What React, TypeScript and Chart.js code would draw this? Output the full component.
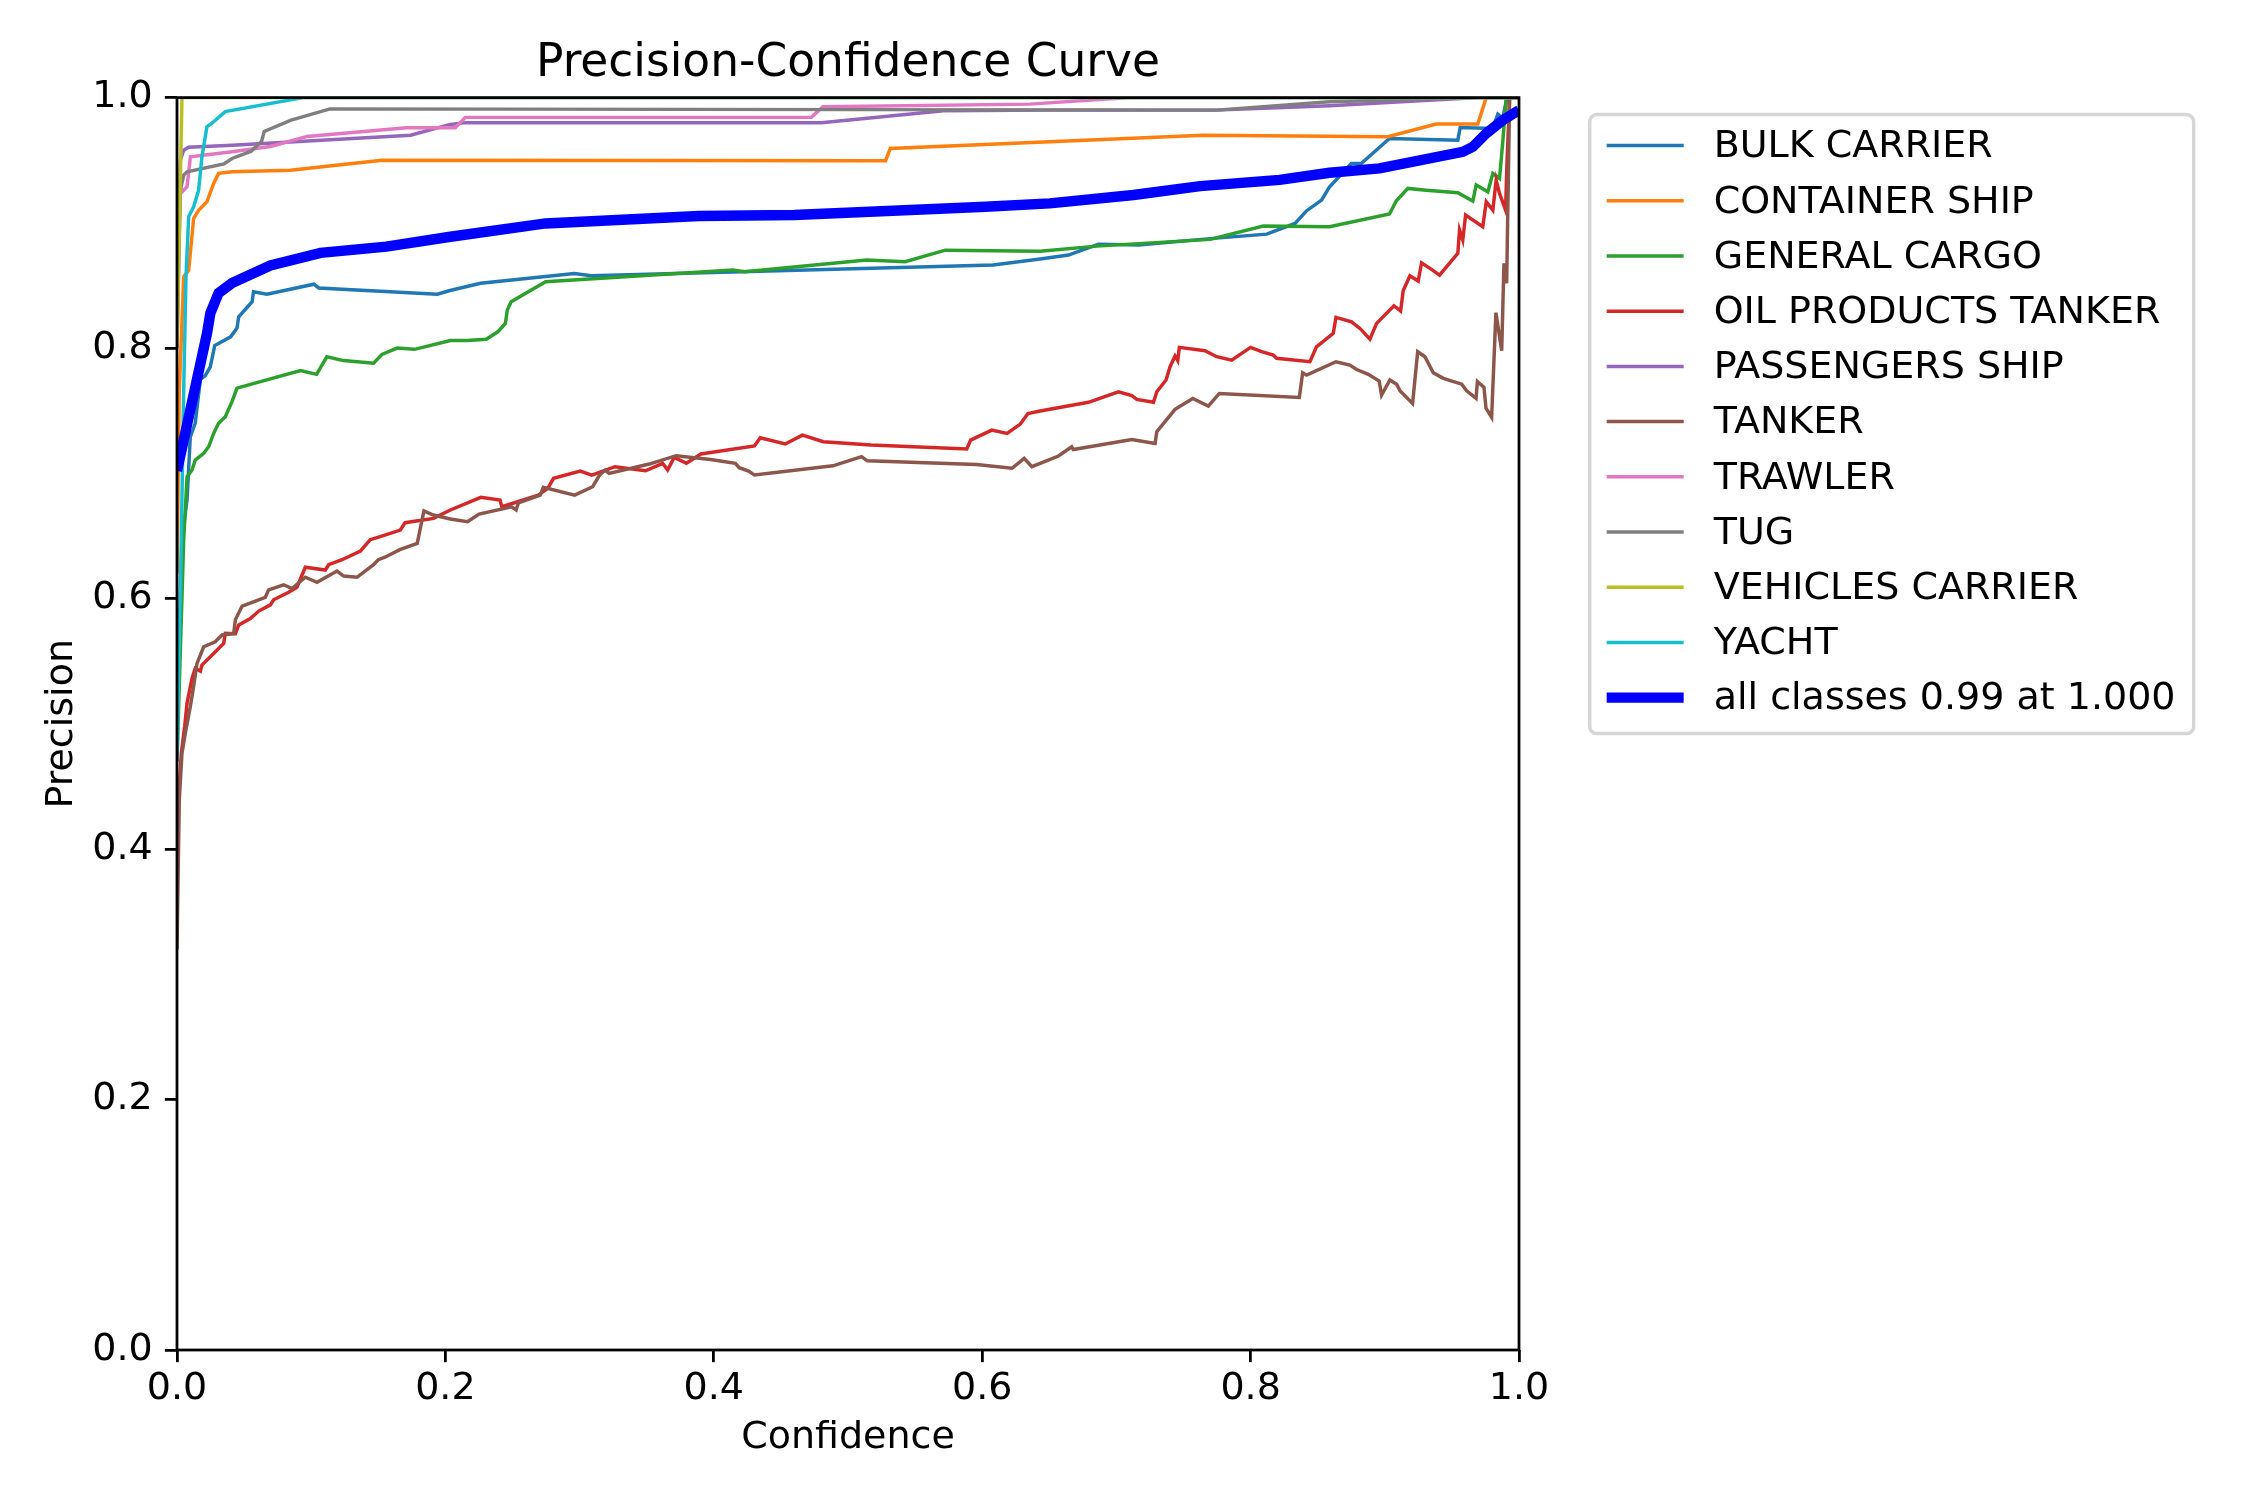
// Precision-Confidence Curve
import { useEffect, useRef } from 'react';
import { Chart, registerables } from 'chart.js';

Chart.register(...registerables);

type Pt = [number, number];

// class names and their colours (matplotlib tab10)
const CLASS_NAMES = [
  'BULK CARRIER',
  'CONTAINER SHIP',
  'GENERAL CARGO',
  'OIL PRODUCTS TANKER',
  'PASSENGERS SHIP',
  'TANKER',
  'TRAWLER',
  'TUG',
  'VEHICLES CARRIER',
  'YACHT',
];
const CLASS_COLORS = [
  '#1f77b4', '#ff7f0e', '#2ca02c', '#d62728', '#9467bd',
  '#8c564b', '#e377c2', '#7f7f7f', '#bcbd22', '#17becf',
];
const ALL_LABEL = 'all classes 0.99 at 1.000';

const X_TICKS = [0, 0.2, 0.4, 0.6, 0.8, 1.0];
const Y_TICKS = [0, 0.2, 0.4, 0.6, 0.8, 1.0];

// [confidence, precision]
const bulkCarrier: Pt[] = [
  [0, 0.5], [0.0037, 0.647], [0.0075, 0.679], [0.0099, 0.729], [0.0136, 0.74], [0.0174, 0.775],
  [0.0211, 0.778], [0.0248, 0.785], [0.0281, 0.802], [0.04, 0.809], [0.0447, 0.816], [0.046, 0.825],
  [0.056, 0.837], [0.057, 0.845], [0.067, 0.843], [0.102, 0.851], [0.1056, 0.848], [0.194, 0.843],
  [0.2034, 0.846], [0.2262, 0.8517], [0.296, 0.8596], [0.3088, 0.8577], [0.6081, 0.8663],
  [0.6432, 0.8711], [0.6643, 0.8743], [0.6866, 0.883], [0.7164, 0.8823], [0.7722, 0.8876],
  [0.812, 0.891], [0.8331, 0.8995], [0.8418, 0.9097], [0.8529, 0.9182], [0.8586, 0.9283],
  [0.875, 0.9474], [0.8824, 0.9474], [0.9035, 0.9674], [0.9544, 0.966], [0.9562, 0.9762],
  [0.9805, 0.9754], [0.9842, 0.9868], [0.9879, 0.9834], [0.991, 1.0], [1, 1.0],
];
const containerShip: Pt[] = [
  [0, 0.62], [0.0017, 0.766], [0.005, 0.857], [0.0087, 0.862], [0.0124, 0.9035], [0.0161, 0.91],
  [0.0223, 0.9168], [0.0273, 0.9315], [0.031, 0.9395], [0.041, 0.9408], [0.0845, 0.942],
  [0.1528, 0.95], [0.528, 0.9496], [0.5315, 0.9594], [0.6503, 0.9647], [0.7645, 0.97],
  [0.9023, 0.9687], [0.9383, 0.9789], [0.9693, 0.9789], [0.9718, 0.9874], [0.9756, 1.0], [1, 1.0],
];
const generalCargo: Pt[] = [
  [0, 0.47], [0.005, 0.647], [0.0075, 0.6973], [0.0112, 0.7026], [0.0136, 0.7106], [0.0199, 0.716],
  [0.0236, 0.7212], [0.0273, 0.7319], [0.031, 0.74], [0.036, 0.7452], [0.041, 0.7572],
  [0.0447, 0.768], [0.092, 0.782], [0.104, 0.779], [0.1117, 0.793], [0.124, 0.79], [0.1465, 0.788],
  [0.1527, 0.795], [0.164, 0.8], [0.177, 0.799], [0.2037, 0.806], [0.2162, 0.806], [0.2305, 0.807],
  [0.239, 0.813], [0.2447, 0.8197], [0.2461, 0.8303], [0.249, 0.837], [0.2747, 0.853],
  [0.4143, 0.8623], [0.4229, 0.861], [0.514, 0.8703], [0.5426, 0.869], [0.5725, 0.8782],
  [0.6432, 0.8774], [0.6854, 0.8814], [0.7698, 0.8868], [0.8095, 0.8974], [0.8588, 0.8969],
  [0.9035, 0.907], [0.9085, 0.9174], [0.9172, 0.9275], [0.9309, 0.9261], [0.9544, 0.924],
  [0.9656, 0.9174], [0.9681, 0.9302], [0.9768, 0.9248], [0.9805, 0.9395], [0.9855, 0.9355],
  [0.9879, 0.9647], [0.9905, 1.0], [1, 1.0],
];
const oilProductsTanker: Pt[] = [
  [0, 0.42], [0.0032, 0.4766], [0.0057, 0.4977], [0.0075, 0.5166], [0.0112, 0.5363],
  [0.0136, 0.5443], [0.0174, 0.542], [0.0186, 0.5469], [0.0273, 0.5562], [0.0348, 0.5642],
  [0.036, 0.5722], [0.0435, 0.572], [0.046, 0.579], [0.0547, 0.584], [0.0609, 0.59], [0.0696, 0.595],
  [0.072, 0.599], [0.0832, 0.605], [0.0894, 0.609], [0.0956, 0.625], [0.1105, 0.6228], [0.113, 0.627],
  [0.123, 0.631], [0.1367, 0.638], [0.144, 0.647], [0.1502, 0.649], [0.1664, 0.6547], [0.17, 0.6606],
  [0.1912, 0.664], [0.2037, 0.6707], [0.2264, 0.6808], [0.2407, 0.6786], [0.2421, 0.6733],
  [0.2692, 0.6826], [0.2763, 0.688], [0.2806, 0.696], [0.3005, 0.7018], [0.3091, 0.6986],
  [0.3263, 0.7053], [0.3491, 0.702], [0.3619, 0.708], [0.3656, 0.7026], [0.3705, 0.7127],
  [0.3796, 0.708], [0.3904, 0.7154], [0.4303, 0.7218], [0.4346, 0.7284], [0.4532, 0.7234],
  [0.466, 0.7305], [0.4816, 0.7252], [0.5173, 0.7226], [0.5885, 0.7194], [0.5914, 0.7265],
  [0.6071, 0.7345], [0.6185, 0.7319], [0.6284, 0.7393], [0.6341, 0.7478], [0.6432, 0.7497],
  [0.6792, 0.7567], [0.7015, 0.7651], [0.7115, 0.762], [0.7152, 0.759], [0.7276, 0.7567],
  [0.7301, 0.7651], [0.737, 0.7745], [0.74, 0.7851], [0.7437, 0.7937], [0.7457, 0.79],
  [0.7469, 0.8006], [0.766, 0.7979], [0.7747, 0.7931], [0.7859, 0.7904], [0.8, 0.8006],
  [0.8082, 0.7971], [0.8169, 0.7944], [0.8194, 0.7918], [0.8442, 0.7891], [0.8491, 0.801],
  [0.8616, 0.8117], [0.8636, 0.8245], [0.8752, 0.821], [0.8815, 0.8157], [0.8889, 0.8072],
  [0.8939, 0.8197], [0.9068, 0.8338], [0.9118, 0.8296], [0.9137, 0.8458], [0.9187, 0.8578],
  [0.9249, 0.8535], [0.9274, 0.8681], [0.9348, 0.8628], [0.9408, 0.8583], [0.9544, 0.8756],
  [0.9557, 0.8942], [0.9581, 0.8862], [0.9602, 0.9062], [0.973, 0.8969], [0.9756, 0.9168],
  [0.9805, 0.9102], [0.983, 0.9341], [0.9855, 0.9235], [0.99, 0.9102], [0.991, 0.9461],
  [0.993, 1.0], [1, 1.0],
];
const passengersShip: Pt[] = [
  [0, 0.85], [0.0025, 0.95], [0.005, 0.958], [0.0087, 0.9603], [0.041, 0.962], [0.174, 0.97],
  [0.2037, 0.9786], [0.215, 0.98], [0.4802, 0.98], [0.5711, 0.9895], [0.6503, 0.99],
  [0.7745, 0.99], [0.8588, 0.9935], [0.97, 1.0], [1, 1.0],
];
const tanker: Pt[] = [
  [0, 0.32], [0.0017, 0.439], [0.0037, 0.4764], [0.0062, 0.4924], [0.0099, 0.5136], [0.0124, 0.53],
  [0.0149, 0.5482], [0.0199, 0.5615], [0.0285, 0.5655], [0.0335, 0.5709], [0.0422, 0.572],
  [0.0435, 0.583], [0.0485, 0.594], [0.0658, 0.601], [0.0683, 0.607], [0.0795, 0.611],
  [0.0857, 0.608], [0.0956, 0.617], [0.1043, 0.613], [0.1192, 0.622], [0.1242, 0.618],
  [0.1341, 0.617], [0.1465, 0.627], [0.15, 0.631], [0.155, 0.633], [0.166, 0.639], [0.179, 0.644],
  [0.184, 0.67], [0.191, 0.6667], [0.2037, 0.6635], [0.2165, 0.6613], [0.2251, 0.6675],
  [0.2493, 0.6733], [0.2527, 0.6707], [0.2544, 0.6765], [0.2707, 0.6826], [0.273, 0.6888],
  [0.2963, 0.6826], [0.3097, 0.6893], [0.3149, 0.6986], [0.3191, 0.7026], [0.322, 0.7],
  [0.3519, 0.7074], [0.3719, 0.7141], [0.3975, 0.7111], [0.4161, 0.708], [0.4189, 0.7045],
  [0.426, 0.7018], [0.4303, 0.6986], [0.4888, 0.706], [0.5101, 0.7133], [0.5144, 0.71],
  [0.5957, 0.7071], [0.6222, 0.704], [0.6313, 0.712], [0.637, 0.7053], [0.6432, 0.708],
  [0.6568, 0.7138], [0.6667, 0.7212], [0.6679, 0.719], [0.7115, 0.727], [0.7288, 0.7238],
  [0.7301, 0.7332], [0.7437, 0.7511], [0.7569, 0.7598], [0.7685, 0.7537], [0.7767, 0.7638],
  [0.8363, 0.7606], [0.8388, 0.7803], [0.8418, 0.7784], [0.8636, 0.7891], [0.874, 0.7864],
  [0.879, 0.7829], [0.8877, 0.779], [0.8958, 0.7737], [0.8976, 0.7625], [0.9038, 0.7745],
  [0.9088, 0.7712], [0.9113, 0.7659], [0.9207, 0.7558], [0.9245, 0.7971], [0.9299, 0.7931],
  [0.9361, 0.7803], [0.9436, 0.7758], [0.9573, 0.7712], [0.961, 0.7659], [0.968, 0.7598],
  [0.969, 0.7732], [0.9739, 0.7687], [0.9754, 0.752], [0.9796, 0.7448], [0.9828, 0.8283],
  [0.9871, 0.7979], [0.9888, 0.8676], [0.9908, 0.8517], [0.993, 1.0], [1, 1.0],
];
const trawler: Pt[] = [
  [0, 0.857], [0.0025, 0.9235], [0.0075, 0.9288], [0.01, 0.9527], [0.041, 0.9567], [0.0696, 0.961],
  [0.097, 0.969], [0.171, 0.976], [0.2074, 0.976], [0.2148, 0.9842], [0.4727, 0.9842],
  [0.4813, 0.9927], [0.6354, 0.9948], [0.7099, 1.0], [1, 1.0],
];
const tug: Pt[] = [
  [0, 0.8], [0.0025, 0.926], [0.005, 0.9381], [0.0075, 0.9408], [0.035, 0.947], [0.041, 0.9514],
  [0.055, 0.957], [0.063, 0.965], [0.065, 0.973], [0.085, 0.982], [0.114, 0.991], [0.7745, 0.99],
  [0.8588, 0.9966], [0.97, 1.0], [1, 1.0],
];
const vehiclesCarrier: Pt[] = [
  [0, 0.8], [0.0037, 1.0], [1, 1.0],
];
const yacht: Pt[] = [
  [0, 0.47], [0.0032, 0.647], [0.005, 0.7665], [0.0067, 0.857], [0.0087, 0.905], [0.0124, 0.9128],
  [0.0161, 0.926], [0.0186, 0.9527], [0.0223, 0.9767], [0.0273, 0.9807], [0.036, 0.9888],
  [0.094, 1.0], [1, 1.0],
];
const allClasses: Pt[] = [
  [0, 0.702], [0.0224, 0.812], [0.0249, 0.828], [0.031, 0.844], [0.041, 0.852], [0.0696, 0.866],
  [0.107, 0.876], [0.156, 0.881], [0.2037, 0.8889], [0.2747, 0.8995], [0.3887, 0.9054],
  [0.4599, 0.9062], [0.6025, 0.9129], [0.6503, 0.9155], [0.7127, 0.9222], [0.7624, 0.9293],
  [0.8216, 0.9343], [0.8588, 0.94], [0.8961, 0.9435], [0.9581, 0.9567], [0.9656, 0.9607],
  [0.9756, 0.9714], [0.9879, 0.982], [1.0, 0.99],
];

const CLASS_DATA = [
  bulkCarrier, containerShip, generalCargo, oilProductsTanker, passengersShip,
  tanker, trawler, tug, vehiclesCarrier, yacht,
];

const FONT = '"DejaVu Sans", sans-serif';
const PT = 250 / 72; // figure is 9x6 inches at 250 dpi
const TEXT = 38; // 10pt text, as it comes out in the picture
const TITLE = 45.5;

const framePlugin = {
  id: 'frame',
  afterDatasetsDraw(chart: any) {
    const { ctx, chartArea: a } = chart;
    ctx.save();
    ctx.strokeStyle = '#000';
    ctx.lineWidth = 0.8 * PT;
    ctx.strokeRect(a.left, a.top, a.right - a.left, a.bottom - a.top);
    ctx.restore();
  },
  afterDraw(chart: any) {
    const { ctx, chartArea: a } = chart;
    const w = a.right - a.left;
    ctx.save();
    ctx.fillStyle = '#000';

    // title and axis labels
    ctx.font = `${TITLE}px ${FONT}`;
    ctx.textAlign = 'center';
    ctx.textBaseline = 'alphabetic';
    ctx.fillText('Precision-Confidence Curve', (a.left + a.right) / 2, a.top - 6 * PT - 1);
    ctx.font = `${TEXT}px ${FONT}`;
    ctx.textBaseline = 'middle';
    ctx.fillText('Confidence', (a.left + a.right) / 2, a.bottom + 88);
    ctx.save();
    ctx.translate(62, (a.top + a.bottom) / 2);
    ctx.rotate(-Math.PI / 2);
    ctx.fillText('Precision', 0, 0);
    ctx.restore();

    // legend, upper left corner at axes (1.04, 1)
    const x0 = a.left + 1.04 * w + 17;
    const y0 = a.top + 17;
    const bw = 604;
    const bh = 619;
    ctx.beginPath();
    ctx.roundRect(x0, y0, bw, bh, 7);
    ctx.fillStyle = 'rgba(255,255,255,0.8)';
    ctx.fill();
    ctx.lineWidth = PT;
    ctx.strokeStyle = '#d6d6d6';
    ctx.stroke();

    const labels = [...CLASS_NAMES, ALL_LABEL];
    const colors = [...CLASS_COLORS, '#0000ff'];
    ctx.textAlign = 'left';
    ctx.textBaseline = 'middle';
    labels.forEach((label, i) => {
      const y = y0 + 31 + i * 55.2;
      ctx.beginPath();
      ctx.moveTo(x0 + 17, y);
      ctx.lineTo(x0 + 94, y);
      ctx.strokeStyle = colors[i];
      ctx.lineWidth = i === labels.length - 1 ? 3 * PT : PT;
      ctx.stroke();
      ctx.fillStyle = '#000';
      ctx.fillText(label, x0 + 124, y + 2);
    });
    ctx.restore();
  },
};

export default function App() {
  const canvasRef = useRef<HTMLCanvasElement>(null);
  const chartRef = useRef<Chart | null>(null);

  useEffect(() => {
    document.body.style.margin = '0';
    if (!canvasRef.current) return;
    if (chartRef.current) chartRef.current.destroy();

    const n = CLASS_DATA.length;
    const datasets: any[] = CLASS_DATA.map((pts, i) => ({
      label: CLASS_NAMES[i],
      data: pts.map(([x, y]) => ({ x, y })),
      borderColor: CLASS_COLORS[i],
      borderWidth: PT,
      pointRadius: 0,
      tension: 0,
      order: n - i,
    }));
    datasets.push({
      label: ALL_LABEL,
      data: allClasses.map(([x, y]) => ({ x, y })),
      borderColor: '#0000ff',
      borderWidth: 3 * PT,
      pointRadius: 0,
      tension: 0,
      order: 0,
    });

    const tickFont = { family: FONT, size: TEXT };
    const grid = {
      drawOnChartArea: false,
      drawTicks: true,
      tickLength: 3.5 * PT,
      lineWidth: 0.8 * PT,
      color: '#000',
    };

    chartRef.current = new Chart(canvasRef.current, {
      type: 'line',
      data: { datasets },
      plugins: [framePlugin],
      options: {
        animation: false,
        responsive: false,
        devicePixelRatio: 1,
        layout: { padding: { left: 0, top: 97.6, right: 731, bottom: 0 } },
        plugins: {
          legend: { display: false },
          title: { display: false },
          tooltip: { enabled: false },
        },
        scales: {
          x: {
            type: 'linear',
            min: 0,
            max: 1,
            afterBuildTicks: (s: any) => { s.ticks = X_TICKS.map((v) => ({ value: v })); },
            afterFit: (s: any) => { s.height = 150; },
            ticks: {
              font: tickFont,
              color: '#000',
              padding: 4,
              maxRotation: 0,
              callback: (v: any) => Number(v).toFixed(1),
            },
            grid,
            border: { display: false },
          },
          y: {
            type: 'linear',
            min: 0,
            max: 1,
            afterBuildTicks: (s: any) => { s.ticks = Y_TICKS.map((v) => ({ value: v })); },
            afterFit: (s: any) => { s.width = 177; },
            ticks: {
              font: tickFont,
              color: '#000',
              padding: 3.5 * PT,
              callback: (v: any) => Number(v).toFixed(1),
            },
            grid,
            border: { display: false },
          },
        },
      },
    });

    return () => {
      if (chartRef.current) {
        chartRef.current.destroy();
        chartRef.current = null;
      }
    };
  }, []);

  return (
    <div style={{ position: 'fixed', left: 0, top: 0, width: 2250, height: 1500, background: '#fff' }}>
      <canvas ref={canvasRef} width={2250} height={1500}></canvas>
    </div>
  );
}
